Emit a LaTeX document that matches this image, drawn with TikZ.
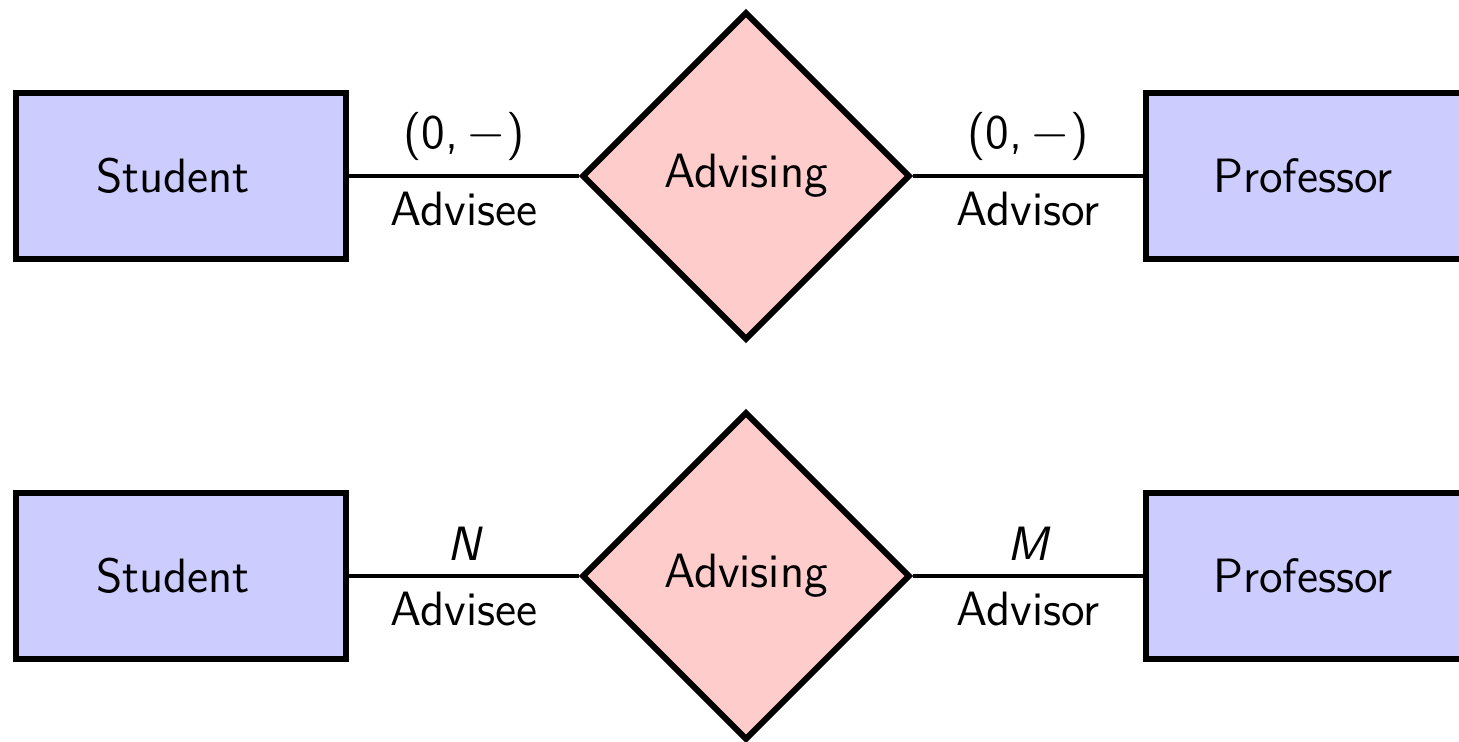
\documentclass[tikz,border=0pt]{standalone}
\usetikzlibrary{shapes.geometric}
\begin{document}
\begin{tikzpicture}[x=0.01cm,y=-0.01cm,
  every node/.style={font=\sffamily\fontsize{13.7}{16}\selectfont},
  entity/.style={draw, line width=0.06cm, fill=blue!20, rectangle,
    minimum width=3.30cm, minimum height=1.66cm, inner sep=0pt},
  relation/.style={draw, line width=0.06cm, fill=red!20, diamond, aspect=1,
    minimum width=3.28cm, minimum height=3.28cm, inner sep=0pt},
  conn/.style={line width=0.04cm},
  role/.style={inner sep=4.5pt, outer sep=0pt}]
\useasboundingbox (0,0) rectangle (1459,742);
\clip (0,0) rectangle (1459,742);

% upper diagram: (min,max) participation
\node[entity, label={[xshift=-0.08cm]center:Student}] (s1) at (181,176) {};
\node[relation] (r1) at (746,176) {Advising};
\node[entity, label={[xshift=-0.08cm]center:Professor}] (p1) at (1311,176) {};
\draw[conn] (s1) -- (r1)
  node[role, midway, above] {(0,\,$-$)}
  node[role, midway, below] {Advisee};
\draw[conn] (r1) -- (p1)
  node[role, midway, above] {(0,\,$-$)}
  node[role, midway, below] {Advisor};

% lower diagram: cardinality ratio
\node[entity, label={[xshift=-0.08cm]center:Student}] (s2) at (181,576) {};
\node[relation] (r2) at (746,576) {Advising};
\node[entity, label={[xshift=-0.08cm]center:Professor}] (p2) at (1311,576) {};
\draw[conn] (s2) -- (r2)
  node[role, midway, above] {\itshape N}
  node[role, midway, below] {Advisee};
\draw[conn] (r2) -- (p2)
  node[role, midway, above] {\itshape M}
  node[role, midway, below] {Advisor};
\end{tikzpicture}
\end{document}
